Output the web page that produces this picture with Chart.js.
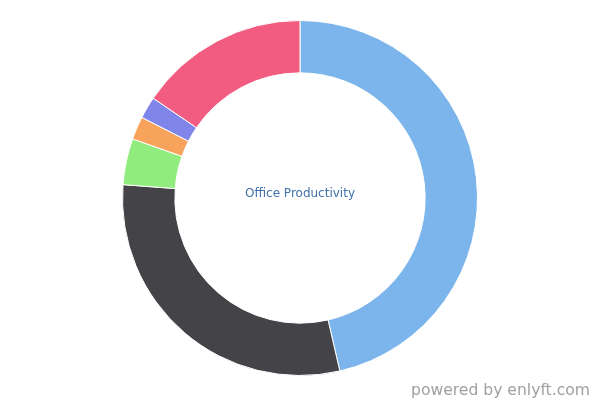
<!DOCTYPE html>
<html>
<head>
<meta charset="utf-8">
<script src="https://cdn.jsdelivr.net/npm/chart.js@4/dist/chart.umd.min.js"></script>
<style>
  html, body { margin: 0; padding: 0; background: #fff; }
</style>
</head>
<body>
<canvas id="chartDonut" width="600" height="400"></canvas>
<script>
const categorias = ['Segment A', 'Segment B', 'Segment C', 'Segment D', 'Segment E', 'Segment F'];
const valores = [46.4, 29.8, 4.2, 2.1, 2.0, 15.5];
const colores = ['#7cb5ec', '#434348', '#90ed7d', '#f7a35c', '#8085e9', '#f15c80'];
const tituloCentro = 'Office Productivity';
const credito = 'powered by enlyft.com';

const textos = {
  id: 'textos',
  afterDraw(chart) {
    const c = chart.ctx;
    const meta = chart.getDatasetMeta(0).data[0];
    c.save();
    c.font = '12px "DejaVu Sans"';
    c.fillStyle = '#4170aa';
    c.textAlign = 'center';
    c.textBaseline = 'middle';
    c.fillText(tituloCentro, meta.x, meta.y - 4);
    c.font = '15.6px "DejaVu Sans"';
    c.fillStyle = '#a0a0a0';
    c.textAlign = 'right';
    c.textBaseline = 'alphabetic';
    c.fillText(credito, 590, 395);
    c.restore();
  }
};

const ctx = document.getElementById('chartDonut');
let grafico = new Chart(ctx, {
  type: 'doughnut',
  data: {
    labels: categorias,
    datasets: [{
      data: valores,
      backgroundColor: colores,
      borderColor: '#ffffff',
      borderWidth: 1
    }]
  },
  options: {
    responsive: false,
    animation: false,
    cutout: '70.5%',
    layout: { padding: { top: 20, bottom: 24 } },
    plugins: {
      legend: { display: false },
      tooltip: { enabled: false }
    }
  },
  plugins: [textos]
});
</script>
</body>
</html>
